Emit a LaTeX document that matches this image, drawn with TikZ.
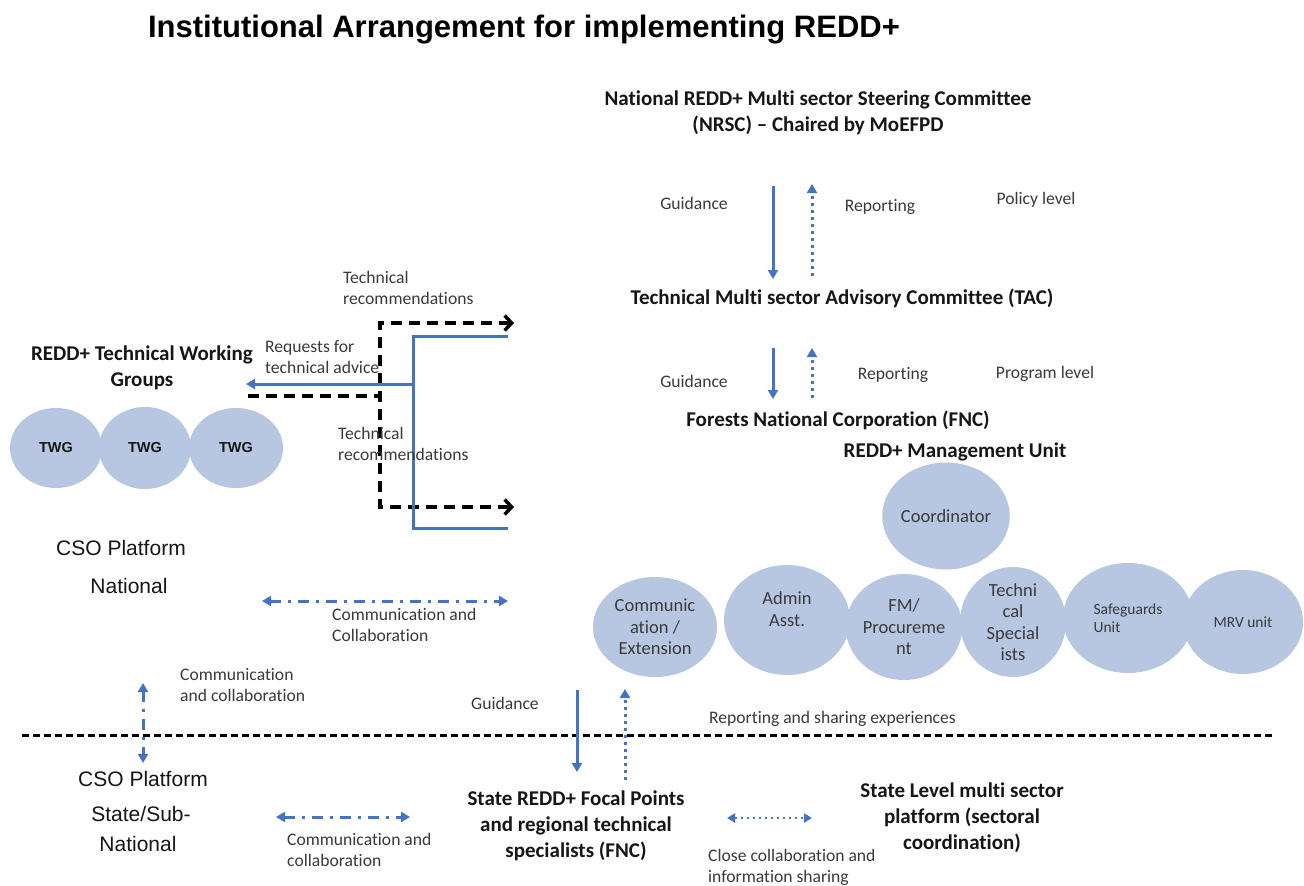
\documentclass[tikz,border=0pt]{standalone}
\usepackage{fontspec}
\setmainfont{Carlito}[Ligatures={NoCommon}]
\newfontfamily\arialfont{Liberation Sans}
\usetikzlibrary{arrows.meta,shapes.geometric}

\definecolor{linkblue}{HTML}{4472C4}
\definecolor{unitfill}{HTML}{B7C7E2}
\definecolor{notegray}{HTML}{3A3A3A}
\definecolor{headink}{HTML}{161616}

\tikzset{
  title/.style={font=\arialfont\fontsize{31}{36}\selectfont\bfseries, text=black, inner sep=0},
  heading/.style={font=\fontsize{21}{26}\selectfont\bfseries, text=headink, align=center, inner sep=0},
  note/.style={font=\fontsize{17.6}{21}\selectfont, text=notegray, align=left, inner sep=0},
  csotext/.style={font=\arialfont\fontsize{21}{24}\selectfont, text=headink, inner sep=0},
  unit/.style={ellipse, fill=unitfill, inner sep=0, align=center, text=notegray,
               font=\fontsize{18.5}{21.5}\selectfont},
  twg/.style={unit, font=\arialfont\fontsize{14.5}{16}\selectfont\bfseries, text=headink},
  tip/.style={-{Triangle[length=9pt,width=10pt]}},
  bitip/.style={{Triangle[length=9pt,width=10pt]}-{Triangle[length=9pt,width=10pt]}},
  guide/.style={linkblue, line width=3pt, tip},
  report/.style={linkblue, line width=3pt, dash pattern=on 3pt off 4pt, tip},
  commlink/.style={linkblue, line width=3pt, dash pattern=on 11pt off 7pt on 3pt off 7pt, bitip},
  recdash/.style={black, line width=3.5pt, dash pattern=on 11pt off 7pt},
  recarrow/.style={recdash, {Straight Barb[length=7pt,width=15pt,line width=3.5pt]}-{Straight Barb[length=7pt,width=15pt,line width=3.5pt]}},
  divider/.style={black, line width=3pt, dash pattern=on 7pt off 4pt},
}

\begin{document}
\begin{tikzpicture}[x=1pt,y=-1pt]
\useasboundingbox[fill=white] (0,0) rectangle (1304,886);

% title
\node[title] (title) at (524,30) {Institutional Arrangement for implementing REDD+};

% national chain
\node[heading] (nrsc) at (818,113) {National REDD+ Multi sector Steering Committee\\(NRSC) -- Chaired by MoEFPD};
\node[heading] (tac) at (842,298) {Technical Multi sector Advisory Committee (TAC)};
\node[heading] (fnc) at (838,420) {Forests National Corporation (FNC)};
\node[heading] (mu) at (955,452) {REDD+ Management Unit};

\coordinate (g1s) at (773,186); \coordinate (g1e) at (773,279);
\coordinate (r1s) at (812,276); \coordinate (r1e) at (812,184);
\coordinate (g2s) at (773,348); \coordinate (g2e) at (773,399);
\coordinate (r2s) at (812,398); \coordinate (r2e) at (812,348);
\draw[guide] (g1s) -- (g1e);
\draw[report] (r1s) -- (r1e);
\draw[guide] (g2s) -- (g2e);
\draw[report] (r2s) -- (r2e);

\node[note] (guid1) at (694,203) {Guidance};
\node[note] (rep1) at (880,207) {Reporting};
\node[note] (policy) at (1036,200) {Policy level};
\node[note] (guid2) at (694,381) {Guidance};
\node[note] (rep2) at (893,375) {Reporting};
\node[note] (program) at (1045,374) {Program level};

% management unit
\node[unit, minimum width=124pt, minimum height=107pt] (coord) at (946,516) {Coordinator};
\node[unit, minimum width=124pt, minimum height=100pt] (comm) at (655,627) {Communic\\ation /\\Extension};
\node[unit, minimum width=126pt, minimum height=110pt] (admin) at (787,620) {Admin\\Asst.\\\mbox{}};
\node[unit, minimum width=114pt, minimum height=106pt] (fm) at (904,627) {FM/\\Procureme\\nt};
\node[unit, minimum width=106pt, minimum height=110pt] (techsp) at (1013,622) {Techni\\cal\\Special\\ists};
\node[unit, minimum width=130pt, minimum height=110pt, align=left, font=\fontsize{15.5}{18}\selectfont] (safe) at (1128,618) {Safeguards\\Unit};
\node[unit, minimum width=120pt, minimum height=104pt, font=\fontsize{15.5}{18}\selectfont] (mrv) at (1243,622) {MRV unit};

% technical working groups
\node[heading] (twgh) at (142,368) {REDD+ Technical Working\\Groups};
\node[twg, minimum width=92pt, minimum height=80pt] (twg1) at (56,448) {TWG};
\node[twg, minimum width=92pt, minimum height=82pt] (twg2) at (145,448) {TWG};
\node[twg, minimum width=94pt, minimum height=80pt] (twg3) at (236,448) {TWG};

% recommendations out of the working groups
\coordinate (twgout) at (248,396);
\coordinate (jn) at (380,396);
\coordinate (jtop) at (380,323);
\coordinate (jbot) at (380,507);
\coordinate (rtop) at (514,323);
\coordinate (rbot) at (514,507);
\draw[recdash] (twgout) -- (jn);
\draw[recarrow] (rtop) -- (jtop) -- (jbot) -- (rbot);

% requests for advice into the working groups
\coordinate (btop) at (508,336);
\coordinate (bvt) at (413,336);
\coordinate (bvb) at (413,528);
\coordinate (bbot) at (508,528);
\coordinate (breq) at (413,384);
\coordinate (twgin) at (246,384);
\draw[linkblue, line width=3pt] (btop) -- (bvt) -- (bvb) -- (bbot);
\draw[guide] (breq) -- (twgin);

\node[note, anchor=west] (rec1) at (343,288) {Technical\\recommendations};
\node[note, anchor=west] (req) at (265,357.5) {Requests for\\technical advice};
\node[note, anchor=west] (rec2) at (338,443.5) {Technical\\recommendations};

% national CSO platform
\node[csotext] (cson1) at (121,548) {CSO Platform};
\node[csotext] (cson2) at (129,586) {National};
\coordinate (cnl) at (262,601);
\coordinate (cnr) at (508,601);
\draw[commlink] (cnl) -- (cnr);
\node[note, anchor=west] (cnlab) at (332,624.5) {Communication and\\Collaboration};

\coordinate (cvt) at (143,683);
\coordinate (cvb) at (143,763);
\draw[commlink] (cvt) -- (cvb);
\node[note, anchor=west] (cvlab) at (180,685) {Communication\\and collaboration};

% national / state boundary
\coordinate (divl) at (22,735);
\coordinate (divr) at (1272,735);
\draw[divider] (divl) -- (divr);
\node[note, anchor=west] (share) at (709,719) {Reporting and sharing experiences};

\coordinate (g3s) at (577,690); \coordinate (g3e) at (577,772);
\coordinate (r3s) at (625,780); \coordinate (r3e) at (625,689);
\draw[guide] (g3s) -- (g3e);
\draw[report] (r3s) -- (r3e);
\node[note] (guid3) at (505,703) {Guidance};

% state level
\node[csotext] (csos1) at (143,779) {CSO Platform};
\node[csotext] (csos2) at (141,814) {State/Sub-};
\node[csotext] (csos3) at (138,844) {National};
\coordinate (csl) at (276,817);
\coordinate (csr) at (410,817);
\draw[commlink] (csl) -- (csr);
\node[note, anchor=west] (cslab) at (287,849.5) {Communication and\\collaboration};

\node[heading] (focal) at (576,826) {State REDD+ Focal Points\\and regional technical\\specialists (FNC)};
\node[heading] (stplat) at (962,818) {State Level multi sector\\platform (sectoral\\coordination)};
\coordinate (fsl) at (727,818);
\coordinate (fsr) at (812,818);
\draw[linkblue, line width=2.5pt, dash pattern=on 2.5pt off 3.5pt, {Triangle[length=8pt,width=9pt]}-{Triangle[length=8pt,width=9pt]}] (fsl) -- (fsr);
\node[note, anchor=west] (close) at (708,867.5) {Close collaboration and\\information sharing};
\end{tikzpicture}
\end{document}
